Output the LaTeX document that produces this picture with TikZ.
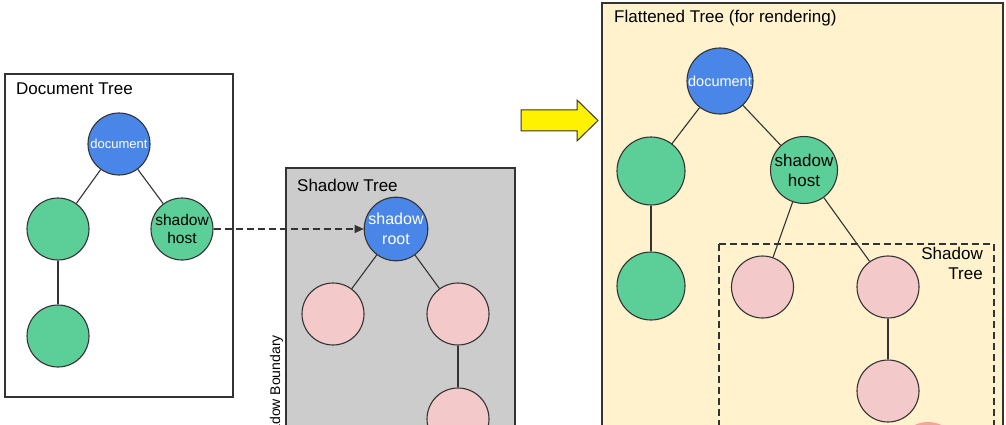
\documentclass[tikz,border=0pt]{standalone}
\usepackage{fontspec}
\setmainfont{Liberation Sans}
\usetikzlibrary{arrows.meta}
\definecolor{nblue}{HTML}{4A86E8}
\definecolor{ngreen}{HTML}{5CCF98}
\definecolor{npink}{HTML}{F4C9CA}
\definecolor{boxgray}{HTML}{CCCCCC}
\definecolor{boxyellow}{HTML}{FFF2CC}
\definecolor{lineg}{HTML}{333333}
\definecolor{ared}{HTML}{F5A49C}
\tikzset{
  treenode/.style={circle,draw=lineg,line width=1.1pt,inner sep=0pt,minimum size=62pt,align=center},
  bluenode/.style={treenode,fill=nblue,text=white},
  greennode/.style={treenode,fill=ngreen},
  pinknode/.style={treenode,fill=npink},
  edge/.style={draw=lineg,line width=1.1pt},
  titletext/.style={inner sep=0pt,font=\fontsize{17}{20}\selectfont},
  panel/.style={draw=lineg,line width=1.1pt},
}
\begin{document}
\begin{tikzpicture}[x=1pt,y=-1pt]
\clip (0,0) rectangle (1006,425);
\fill[white] (0,0) rectangle (1006,425);

% Document tree panel
\draw[panel,fill=white] (5,74) rectangle (233,397);
\node[titletext,anchor=base west] (t1) at (16,95) {Document Tree};
\node[bluenode,font=\fontsize{13}{15}\selectfont] (d1) at (119,144) {document};
\node[greennode] (g1) at (58,229) {};
\node[greennode,font=\fontsize{15.5}{18}\selectfont] (h1) at (182,229) {shadow\\host};
\node[greennode] (g2) at (58,336) {};
\draw[edge] (d1) -- (g1);
\draw[edge] (d1) -- (h1);
\draw[edge] (g1) -- (g2);

% Shadow tree panel
\draw[panel,fill=boxgray] (286,168) rectangle (515,440);
\node[titletext,anchor=base west] (t2) at (297,191) {Shadow Tree};
\node[bluenode,font=\fontsize{16}{20}\selectfont] (r2) at (396,229) {shadow\\root};
\node[pinknode] (p1) at (333,314) {};
\node[pinknode] (p2) at (458,314) {};
\node[pinknode] (p3) at (458,419) {};
\draw[edge] (r2) -- (p1);
\draw[edge] (r2) -- (p2);
\draw[edge] (p2) -- (p3);
\node[inner sep=0pt,rotate=90,anchor=base east,font=\fontsize{14}{16}\selectfont] (sb) at (280,335) {Shadow Boundary};

\draw[lineg,line width=1.1pt,dash pattern=on 7pt off 4pt,-{Triangle[length=9pt,width=8pt]}] (h1) -- (r2);

% Yellow arrow
\draw[fill=yellow,draw=lineg,line width=1pt,line join=miter]
  (521,110) -- (577,110) -- (577,100) -- (598,120.5) -- (577,141) -- (577,131) -- (521,131) -- cycle;

% Flattened tree panel
\draw[panel,fill=boxyellow] (602,3) rectangle (1003,440);
\node[titletext,anchor=base west] (t3) at (614,23) {Flattened Tree (for rendering)};
\draw[lineg,line width=1.1pt,dash pattern=on 7pt off 4pt] (719,244) rectangle (994,440);
\node[titletext,anchor=north east,align=right] (t4) at (983,247) {Shadow\\Tree};

\node[bluenode,minimum size=66pt,font=\fontsize{14.5}{17}\selectfont] (d3) at (720,81) {document};
\node[greennode,minimum size=68pt] (g3) at (651,171) {};
\node[greennode,minimum size=66pt,font=\fontsize{17}{20}\selectfont] (h3) at (804,170) {shadow\\host};
\node[greennode,minimum size=68pt] (g4) at (651,286) {};
\node[pinknode] (p4) at (762.5,287) {};
\node[pinknode] (p5) at (888,287) {};
\node[pinknode] (p6) at (888,391) {};
\draw[edge] (d3) -- (g3);
\draw[edge] (d3) -- (h3);
\draw[edge] (g3) -- (g4);
\draw[edge] (h3) -- (p4);
\draw[edge] (h3) -- (p5);
\draw[edge] (p5) -- (p6);
\fill[ared] (928,453) circle (31);
\end{tikzpicture}
\end{document}
